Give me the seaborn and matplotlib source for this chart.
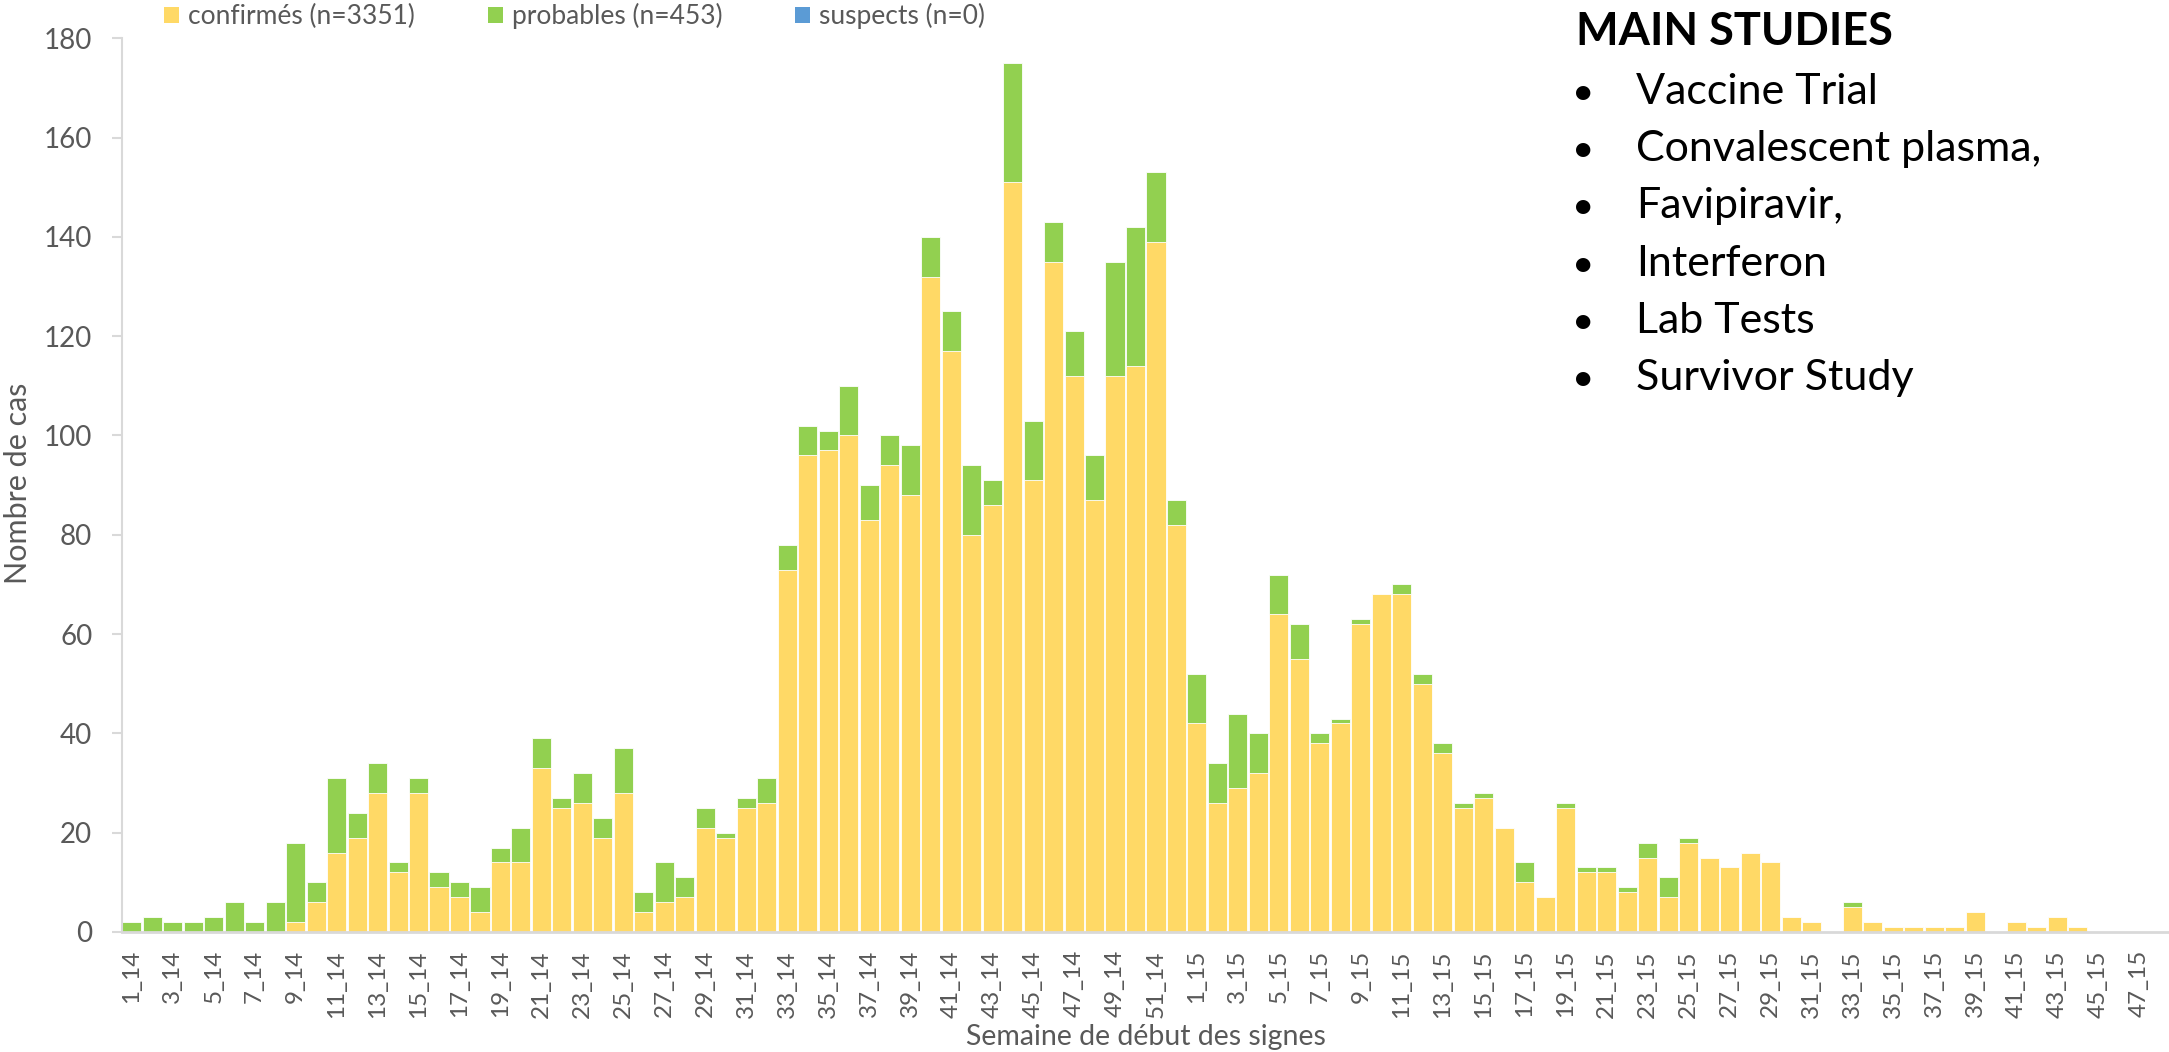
import numpy as np
import pandas as pd
import matplotlib
matplotlib.use("Agg")
import matplotlib.pyplot as plt
from matplotlib.patches import Patch
import seaborn as sns

# ---------------- data ----------------
weeks = [f"{w}_14" for w in range(1, 53)] + [f"{w}_15" for w in range(1, 49)]

confirmes = [0, 0, 0, 0, 0, 0, 0, 0, 2, 6, 16, 19, 28, 12, 28, 9, 7, 4, 14, 14,
             33, 25, 26, 19, 28, 4, 6, 7, 21, 19, 25, 26,
             73, 96, 97, 100, 83, 94, 88, 132, 117, 80, 86, 151, 91, 135, 112, 87,
             112, 114, 139, 82,
             42, 26, 29, 32, 64, 55, 38, 42, 62, 68, 68, 50, 36, 25, 27, 21, 10, 7,
             25, 12, 12, 8, 15, 7, 18, 15, 13, 16, 14, 3, 2, 0, 5, 2, 1, 1, 1, 1,
             4, 0, 2, 1, 3, 1, 0, 0, 0, 0]

probables = [2, 3, 2, 2, 3, 6, 2, 6, 16, 4, 15, 5, 6, 2, 3, 3, 3, 5, 3, 7,
             6, 2, 6, 4, 9, 4, 8, 4, 4, 1, 2, 5,
             5, 6, 4, 10, 7, 6, 10, 8, 8, 14, 5, 24, 12, 8, 9, 9, 23, 28, 14, 5,
             10, 8, 15, 8, 8, 7, 2, 1, 1, 0, 2, 2, 2, 1, 1, 0, 4, 0,
             1, 1, 1, 1, 3, 4, 1, 0, 0, 0, 0, 0, 0, 0, 1, 0, 0, 0, 0, 0,
             0, 0, 0, 0, 0, 0, 0, 0, 0, 0]

suspects = [0] * len(weeks)

legend_labels = ["confirmés (n=3351)", "probables (n=453)", "suspects (n=0)"]
studies_title = "MAIN STUDIES"
studies = ["Vaccine Trial", "Convalescent plasma,", "Favipiravir,", "Interferon",
           "Lab Tests", "Survivor Study"]

df = pd.DataFrame({"semaine": weeks, "confirmes": confirmes,
                   "probables": probables, "suspects": suspects})
df["total_prob"] = df["confirmes"] + df["probables"]
df["total_susp"] = df["total_prob"] + df["suspects"]

# ---------------- style ----------------
sns.set_theme(style="white")
plt.rcParams["font.family"] = ["Lato", "DejaVu Sans"]
GRAY = "#595959"
LINE = "#D9D9D9"
YELLOW = "#FFD966"
GREEN = "#92D050"
BLUE = "#5B9BD5"

W, H = 2169, 1052
fig = plt.figure(figsize=(W / 100, H / 100), dpi=100)
ax = fig.add_axes([121.5 / W, 1 - 932 / H, (2170 - 121.5) / W, (932 - 38.3) / H])

bw = 0.93
sns.barplot(data=df, x="semaine", y="total_susp", order=weeks, color=BLUE,
            saturation=1, width=bw, edgecolor="white", linewidth=0.6, ax=ax)
sns.barplot(data=df, x="semaine", y="total_prob", order=weeks, color=GREEN,
            saturation=1, width=bw, edgecolor="white", linewidth=0.6, ax=ax)
sns.barplot(data=df, x="semaine", y="confirmes", order=weeks, color=YELLOW,
            saturation=1, width=bw, edgecolor="white", linewidth=0.6, ax=ax)

ax.set_xlim(-0.5, len(weeks) - 0.5)
ax.set_ylim(0, 180)
ax.set_yticks(np.arange(0, 181, 20))
ax.set_xticks(range(0, len(weeks), 2))
ax.set_xticklabels(weeks[::2], rotation=90, fontsize=17.5, color=GRAY)
ax.tick_params(axis="x", length=0, pad=13)
ax.tick_params(axis="y", length=7, width=1.5, color=LINE, pad=14,
               labelsize=20, labelcolor=GRAY, left=True)
for s in ["top", "right"]:
    ax.spines[s].set_visible(False)
ax.spines["left"].set_color(LINE)
ax.spines["left"].set_linewidth(1.5)
ax.spines["bottom"].set_color(LINE)
ax.spines["bottom"].set_linewidth(2)
ax.set_xlabel("")
ax.set_ylabel("")
ax.grid(False)

fig.text(18 / W, 1 - 483 / H, "Nombre de cas", rotation=90, ha="center",
         va="center", fontsize=22, color=GRAY)
fig.text(1146 / W, 1 - 1037 / H, "Semaine de début des signes", ha="center",
         va="center", fontsize=20.5, color=GRAY)

handles = [Patch(facecolor=c, edgecolor="none") for c in (YELLOW, GREEN, BLUE)]
fig.legend(handles, legend_labels, loc="center left",
           bbox_to_anchor=(164 / W, 1 - 16 / H), ncol=3, frameon=False,
           fontsize=19, labelcolor=GRAY, handlelength=0.57, handleheight=0.57,
           handletextpad=0.34, columnspacing=2.76, borderpad=0, borderaxespad=0)

# ---------------- text block ----------------
fig.text(1576 / W, 1 - 45 / H, studies_title, ha="left", va="baseline",
         fontsize=32.5, fontweight="bold", color="black")
for i, item in enumerate(studies):
    yb = 1 - (104 + i * 57.2) / H
    fig.text(1583 / W, yb, "\u2022", ha="center", va="baseline", fontsize=28,
             color="black")
    fig.text(1636 / W, yb, item, ha="left", va="baseline", fontsize=31,
             color="black")

fig.savefig("out.png", dpi=100)
